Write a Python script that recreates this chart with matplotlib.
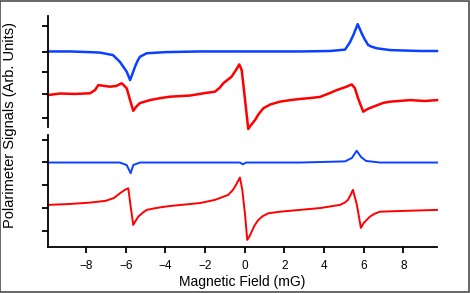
import numpy as np
import matplotlib
matplotlib.use('Agg')
import matplotlib.pyplot as plt
from matplotlib.patches import Rectangle

plt.rcParams['font.family'] = ['Liberation Sans', 'DejaVu Sans']

# --- Data (field in mG, signal in arb. units) ---
# top panel, blue trace
top_blue_x = [-9.92, -8.81, -7.80, -7.30, -6.64, -6.30, -5.95, -5.78, -5.65, -5.53,
              -5.40, -5.28, -4.94, -4.00, -2.25, 0.27, 2.79, 4.30, 5.06, 5.30,
              5.48, 5.70, 5.90, 6.05, 6.23, 6.40, 6.66, 7.34, 8.85, 9.70]
top_blue_y = [3.31, 3.31, 3.28, 3.26, 3.15, 2.86, 2.42, 2.05, 2.35, 2.64,
              2.90, 3.08, 3.23, 3.28, 3.31, 3.31, 3.31, 3.33, 3.39, 3.70,
              4.03, 4.51, 4.11, 3.85, 3.59, 3.52, 3.45, 3.37, 3.33, 3.33]

# top panel, red trace
top_red_x = [-9.92, -9.31, -8.56, -7.80, -7.55, -7.38, -7.05, -6.79, -6.49, -6.20,
             -5.95, -5.78, -5.62, -5.45, -5.28, -4.78, -4.30, -3.77, -2.76, -2.00,
             -1.50, -1.25, -1.08, -0.66, -0.44, -0.27, -0.15, 0.02, 0.18, 0.30,
             0.52, 0.70, 0.94, 1.30, 1.77, 2.30, 2.79, 3.30, 3.80, 4.30,
             4.64, 5.11, 5.40, 5.56, 5.70, 5.81, 5.98, 6.20, 6.49, 7.00,
             7.33, 8.34, 9.09, 9.70]
top_red_y = [1.39, 1.46, 1.44, 1.47, 1.61, 1.83, 1.79, 1.76, 1.79, 1.91,
             1.69, 1.17, 0.70, 0.90, 1.04, 1.17, 1.25, 1.32, 1.37, 1.48,
             1.54, 1.72, 1.91, 2.20, 2.49, 2.74, 2.49, 1.17, -0.10, 0.05,
             0.29, 0.55, 0.81, 0.98, 1.10, 1.17, 1.22, 1.26, 1.31, 1.48,
             1.61, 1.75, 1.86, 1.69, 1.30, 1.04, 0.66, 0.78, 0.88, 1.05,
             1.10, 1.17, 1.13, 1.17]

# bottom panel, blue trace
bot_blue_x = [-9.92, -7.30, -6.30, -5.95, -5.75, -5.62, -5.28, -2.25, -0.24, -0.09,
              0.07, 2.79, 5.06, 5.41, 5.65, 5.86, 6.12, 6.83, 9.70]
bot_blue_y = [3.71, 3.71, 3.71, 3.60, 3.24, 3.60, 3.71, 3.71, 3.71, 3.63,
              3.71, 3.71, 3.76, 3.91, 4.23, 3.96, 3.78, 3.71, 3.71]

# bottom panel, red trace
bot_red_x = [-9.92, -8.81, -7.80, -7.00, -6.60, -6.29, -6.04, -5.87, -5.76, -5.62,
             -5.50, -5.37, -5.15, -4.94, -4.60, -4.27, -3.77, -2.25, -1.50, -1.10,
             -0.83, -0.60, -0.49, -0.30, -0.24, -0.12, 0.02, 0.13, 0.25, 0.35,
             0.50, 0.69, 0.90, 1.19, 1.78, 2.79, 3.80, 4.81, 5.05, 5.21,
             5.35, 5.46, 5.66, 5.86, 6.00, 6.31, 6.55, 6.82, 7.83, 9.70]
bot_red_y = [1.85, 1.89, 1.95, 2.03, 2.15, 2.36, 2.51, 2.58, 1.85, 0.97,
             1.15, 1.33, 1.50, 1.63, 1.69, 1.74, 1.80, 1.93, 2.07, 2.20,
             2.29, 2.50, 2.65, 2.95, 3.05, 2.51, 1.41, 0.31, 0.48, 0.67,
             0.95, 1.19, 1.35, 1.48, 1.55, 1.63, 1.71, 1.85, 1.95, 2.07,
             2.30, 2.51, 1.85, 0.84, 1.05, 1.33, 1.46, 1.55, 1.58, 1.63]

top_yticks = [0.40, 1.42, 2.42, 3.30, 4.43]
bot_yticks = [0.70, 1.70, 2.72, 3.72, 4.70]
xticks = [-8, -6, -4, -2, 0, 2, 4, 6, 8]

BLUE = '#0a40ff'
RED = '#ff0000'

fig = plt.figure(figsize=(4.70, 2.93), dpi=100)
fig.patches.append(Rectangle((0.001, 0.002), 0.997, 0.995, transform=fig.transFigure,
                             fill=False, edgecolor='#4d4d4d', linewidth=1.2))

ax1 = fig.add_axes([0.1021, 0.5676, 0.8277, 0.3778])
ax2 = fig.add_axes([0.1021, 0.1570, 0.8277, 0.3823])

ax1.plot(top_blue_x, top_blue_y, color=BLUE, lw=1.8, clip_on=False)
ax1.plot(top_red_x, top_red_y, color=RED, lw=1.8, clip_on=False)
ax2.plot(bot_blue_x, bot_blue_y, color=BLUE, lw=1.4, clip_on=False)
ax2.plot(bot_red_x, bot_red_y, color=RED, lw=1.4, clip_on=False)

for ax in (ax1, ax2):
    ax.set_xlim(-9.92, 9.70)
    for s in ('top', 'right'):
        ax.spines[s].set_visible(False)
    ax.spines['left'].set_linewidth(1.3)
    ax.spines['bottom'].set_linewidth(1.3)
    ax.tick_params(axis='y', direction='out', length=4.5, width=1.3, labelleft=False)
    ax.tick_params(axis='x', direction='out', length=4.5, width=1.3, labelsize=8.5,
                   pad=5)

ax1.set_ylim(0, 4.87)
ax1.set_yticks(top_yticks)
ax1.spines['bottom'].set_visible(False)
ax1.tick_params(axis='x', bottom=False, labelbottom=False)

ax2.set_ylim(0, 4.92)
ax2.set_yticks(bot_yticks)
ax2.set_xticks(xticks)
ax2.set_xlabel('Magnetic Field (mG)', fontsize=10, labelpad=2)

fig.text(0.022, 0.575, 'Polarimeter Signals (Arb. Units)', rotation=90,
         ha='center', va='center', fontsize=10.5)

fig.savefig('out.png', dpi=100)
